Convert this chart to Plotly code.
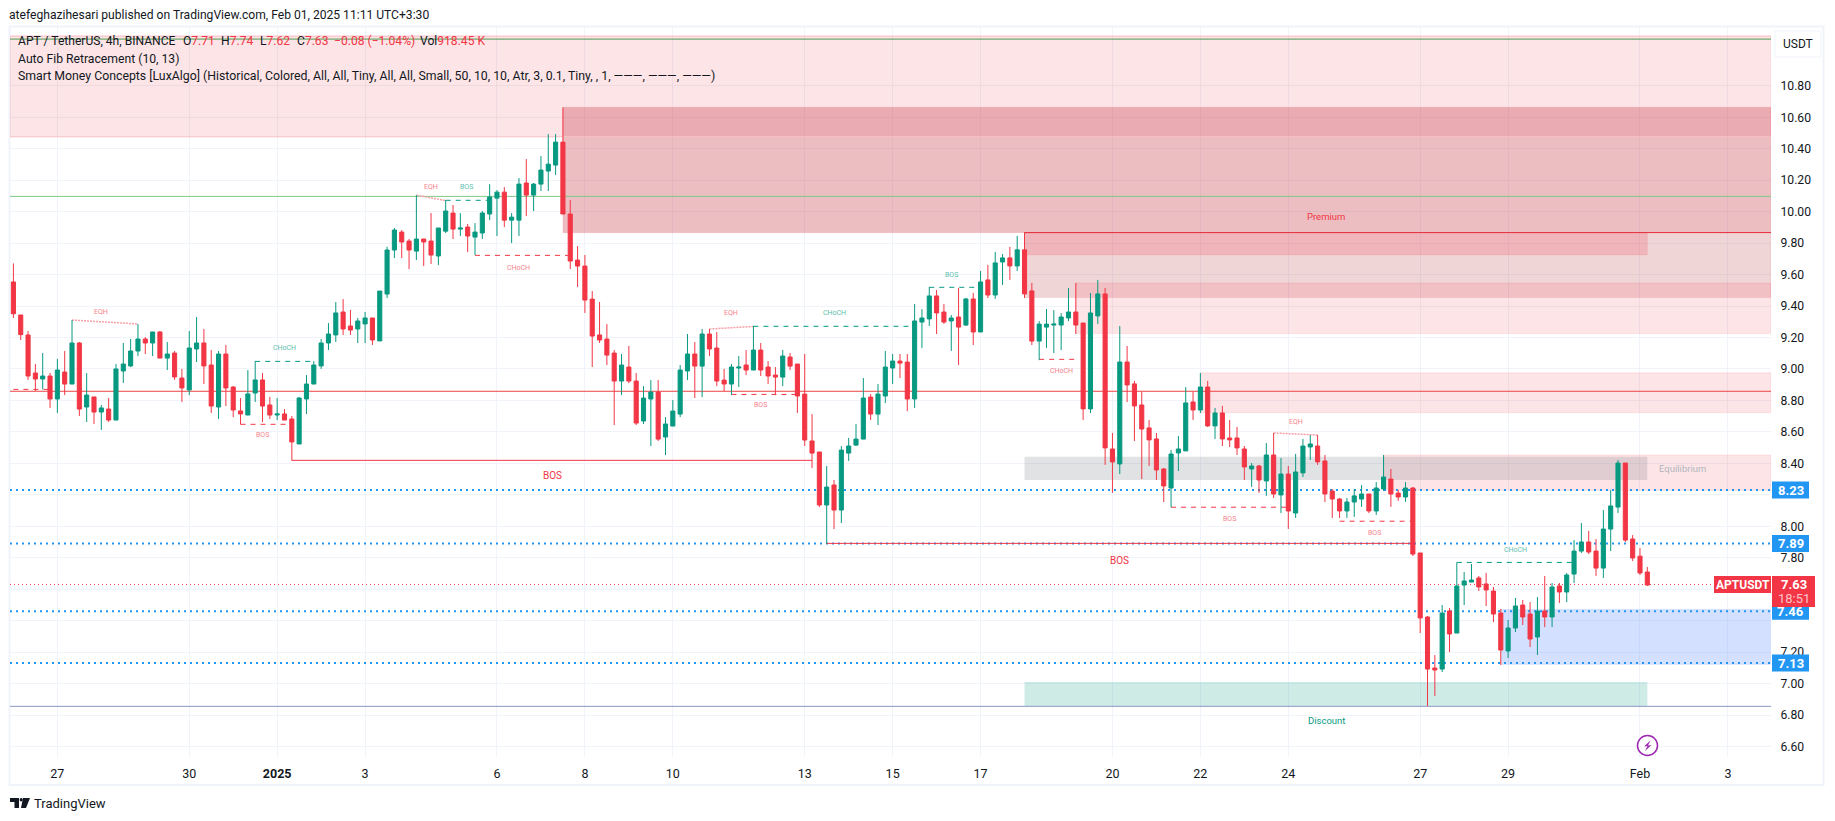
import pandas as pd
import plotly.graph_objects as go

W, H = 1835, 821
L, R, T, B = 10, 1771, 27, 757

start_time = "2024-12-26 03:30"
opens = [9.553,9.343,9.216,8.974,8.936,8.955,8.809,8.980,8.904,9.165,8.758,8.822,8.726,8.745,8.675,8.987,9.019,9.114,9.190,9.165,
9.235,9.069,9.101,8.942,8.866,9.127,9.165,9.025,8.758,9.095,8.885,8.733,8.707,8.847,8.930,8.771,8.707,8.714,8.682,8.523,
8.809,8.904,9.019,9.165,9.216,9.362,9.273,9.254,9.286,9.324,9.178,9.476,9.756,9.870,9.813,9.749,9.826,9.813,9.718,9.876,
9.991,9.889,9.902,9.838,9.864,9.985,10.086,10.124,9.946,9.946,10.182,10.105,10.175,10.258,10.296,10.442,9.985,9.692,9.654,9.444,
9.216,9.190,9.101,8.923,9.012,8.923,8.669,8.809,8.853,8.567,8.637,8.713,8.987,9.095,9.018,9.222,9.133,8.929,8.904,9.006,
9.025,8.993,9.120,9.012,8.961,8.948,9.076,9.031,8.840,8.542,8.472,8.135,8.262,8.103,8.465,8.516,8.554,8.821,8.713,8.828,
9.006,9.050,9.044,8.809,9.298,9.318,9.464,9.362,9.305,9.330,9.279,9.445,9.235,9.566,9.470,9.680,9.706,9.655,9.757,9.496,
9.177,9.266,9.279,9.279,9.324,9.362,9.292,8.746,9.337,9.477,8.491,8.396,9.044,8.905,8.771,8.625,8.555,8.364,8.243,8.466,
8.479,8.790,8.739,8.885,8.638,8.720,8.561,8.561,8.491,8.364,8.383,8.288,8.453,8.199,8.332,8.084,8.339,8.504,8.510,8.415,
8.224,8.173,8.097,8.154,8.173,8.205,8.097,8.237,8.300,8.211,8.186,8.243,7.830,7.423,7.099,7.092,7.461,7.321,7.626,7.645,
7.671,7.633,7.588,7.448,7.207,7.353,7.499,7.442,7.296,7.461,7.423,7.620,7.582,7.696,7.842,7.900,7.842,7.734,7.982,8.122,
8.402,7.919,7.810,7.709]
highs = [9.671,9.343,9.241,9.031,9.101,8.974,9.063,9.114,9.311,9.171,8.974,8.822,8.771,8.815,9.031,9.165,9.190,9.286,9.203,9.235,
9.241,9.171,9.114,9.000,9.241,9.330,9.254,9.120,9.114,9.152,8.892,8.815,8.993,9.050,8.974,8.822,8.815,8.745,8.701,8.822,
8.961,9.050,9.190,9.292,9.425,9.444,9.375,9.324,9.362,9.324,9.495,9.777,9.896,9.883,9.826,10.105,9.826,9.991,9.896,10.074,
10.042,9.991,9.921,9.927,10.004,10.175,10.137,10.156,9.991,10.213,10.334,10.182,10.353,10.493,10.493,10.663,10.074,9.781,9.724,9.495,
9.425,9.285,9.120,9.095,9.146,8.974,8.891,8.929,8.929,8.694,8.802,9.025,9.222,9.171,9.254,9.254,9.235,9.000,9.031,9.082,
9.120,9.273,9.165,9.050,9.012,9.120,9.101,9.031,9.095,8.713,8.472,8.383,8.294,8.510,8.561,8.650,8.942,8.840,8.904,9.114,
9.095,9.095,9.095,9.413,9.380,9.521,9.502,9.413,9.343,9.515,9.451,9.483,9.623,9.661,9.744,9.731,9.776,9.846,9.869,9.547,
9.304,9.381,9.374,9.355,9.515,9.547,9.292,9.483,9.566,9.515,8.593,9.273,9.146,8.924,8.854,8.676,8.593,8.370,8.485,8.574,
8.885,8.854,8.974,8.924,8.752,8.765,8.676,8.631,8.510,8.402,8.390,8.529,8.593,8.434,8.383,8.460,8.555,8.580,8.580,8.453,
8.237,8.180,8.180,8.237,8.262,8.205,8.281,8.453,8.364,8.231,8.281,8.249,7.830,7.429,7.181,7.499,7.480,7.770,7.709,7.760,
7.684,7.703,7.614,7.474,7.404,7.544,7.531,7.518,7.550,7.684,7.639,7.639,7.703,7.912,8.020,7.970,7.919,8.103,8.230,8.421,
8.402,7.944,7.861,7.741]
lows = [9.324,9.184,8.930,8.860,8.870,8.752,8.720,8.834,8.904,8.701,8.663,8.650,8.612,8.663,8.675,8.911,9.012,9.082,9.095,9.082,
9.069,8.993,8.930,8.790,8.834,9.044,8.904,8.720,8.682,8.764,8.694,8.648,8.707,8.790,8.663,8.682,8.675,8.675,8.417,8.523,
8.714,8.904,9.000,9.120,9.171,9.216,9.216,9.165,9.165,9.152,9.178,9.451,9.705,9.705,9.635,9.692,9.654,9.667,9.660,9.864,
9.826,9.845,9.743,9.724,9.826,9.946,9.845,9.902,9.800,9.845,9.972,10.004,10.131,10.131,10.233,9.985,9.635,9.521,9.356,9.012,
9.165,9.025,8.643,8.834,8.910,8.643,8.650,8.510,8.542,8.453,8.637,8.694,8.929,8.815,8.821,9.082,8.891,8.859,8.834,8.885,
8.961,8.993,8.955,8.904,8.834,8.891,8.993,8.720,8.510,8.370,8.122,7.891,7.982,8.020,8.415,8.510,8.554,8.675,8.643,8.783,
8.904,8.942,8.732,8.752,9.133,9.273,9.222,9.286,9.114,9.025,9.273,9.152,9.235,9.451,9.445,9.534,9.566,9.623,9.451,9.152,
9.056,9.133,9.101,9.120,9.304,9.222,8.676,8.720,9.286,8.390,8.212,8.332,8.790,8.542,8.300,8.383,8.294,8.154,8.120,8.351,
8.479,8.676,8.720,8.631,8.555,8.510,8.504,8.453,8.294,8.250,8.212,8.193,8.180,8.084,7.983,8.053,8.313,8.421,8.390,8.154,
8.053,8.053,8.053,8.059,8.123,8.084,8.072,8.224,8.123,8.161,8.155,7.811,7.321,6.857,6.921,7.073,7.200,7.321,7.499,7.645,
7.588,7.493,7.391,7.118,7.162,7.327,7.372,7.232,7.181,7.359,7.359,7.512,7.518,7.639,7.830,7.823,7.684,7.671,7.842,8.084,
7.900,7.779,7.690,7.620]
closes = [9.351,9.218,8.955,8.936,8.955,8.809,8.993,8.904,9.165,8.745,8.834,8.726,8.752,8.675,9.000,9.031,9.114,9.190,9.165,9.235,
9.069,9.095,8.949,8.879,9.133,9.165,9.019,8.764,9.095,8.879,8.739,8.714,8.841,8.930,8.764,8.707,8.714,8.675,8.536,8.815,
8.904,9.025,9.165,9.222,9.356,9.254,9.247,9.305,9.324,9.184,9.495,9.756,9.883,9.807,9.756,9.826,9.807,9.724,9.896,10.004,
9.889,9.896,9.845,9.870,9.991,10.093,10.124,9.946,9.965,10.175,10.105,10.175,10.264,10.302,10.442,9.985,9.686,9.654,9.438,9.209,
9.184,9.088,8.923,9.025,8.923,8.656,8.815,8.853,8.554,8.650,8.732,8.993,9.095,9.018,9.222,9.127,8.923,8.904,9.012,9.012,
8.993,9.120,8.993,8.955,8.948,9.082,9.018,8.828,8.548,8.465,8.135,8.249,8.103,8.484,8.510,8.554,8.815,8.713,8.840,9.012,
9.050,9.037,8.809,9.305,9.324,9.464,9.356,9.298,9.324,9.266,9.445,9.235,9.553,9.470,9.674,9.706,9.655,9.757,9.477,9.177,
9.285,9.285,9.285,9.330,9.362,9.279,8.746,9.356,9.477,8.498,8.409,9.044,8.898,8.765,8.618,8.549,8.358,8.256,8.459,8.491,
8.784,8.739,8.885,8.638,8.720,8.555,8.549,8.498,8.377,8.383,8.294,8.453,8.205,8.332,8.097,8.345,8.510,8.523,8.409,8.205,
8.173,8.097,8.154,8.193,8.205,8.097,8.243,8.313,8.205,8.186,8.243,7.823,7.417,7.092,7.086,7.448,7.315,7.620,7.652,7.658,
7.614,7.595,7.442,7.213,7.353,7.493,7.423,7.283,7.461,7.423,7.614,7.582,7.690,7.842,7.900,7.836,7.734,7.982,8.129,8.402,
7.912,7.798,7.703,7.626]

price_ticks = [6.6,6.8,7.0,7.2,7.4,7.6,7.8,8.0,8.2,8.4,8.6,8.8,9.0,9.2,9.4,9.6,9.8,10.0,10.2,10.4,10.6,10.8]
hidden_price_ticks = [7.4, 7.6, 8.2]  # covered by the price badges in the reference
time_tick_candles = [7,25,37,49,67,79,91,109,121,133,151,163,175,193,205,223,235]
time_tick_labels = ["27","30","<b>2025</b>","3","6","8","10","13","15","17","20","22","24","27","29","Feb","3"]

# (from candle, to candle, price bottom, price top, fill)  to=None: right edge
zones = [
    (None, None, 10.476, 11.116, "rgba(242,54,69,0.13)"),
    (76, None, 9.866, 10.663, "rgba(197,52,64,0.32)"),
    (139, None, 9.454, 9.866, "rgba(172,22,33,0.18)"),
    (139, 224, 9.725, 9.866, "rgba(242,54,69,0.20)"),
    (146, None, 9.225, 9.547, "rgba(242,54,69,0.13)"),
    (163, None, 8.722, 8.975, "rgba(242,54,69,0.13)"),
    (188, None, 8.229, 8.453, "rgba(242,54,69,0.13)"),
    (139, 224, 8.294, 8.441, "rgba(120,123,134,0.22)"),
    (204, None, 7.120, 7.474, "rgba(41,98,255,0.20)"),
    (139, 224, 6.857, 7.010, "rgba(8,153,129,0.20)"),
]
# (price, colour, from candle)
levels = [
    (11.116, "#f7c6ca", None), (11.097, "#4c9a50", None), (10.476, "#f7c6ca", None),
    (10.097, "#7fc983", None), (8.858, "#ef4444", None), (6.855, "#8c97c2", None),
    (9.867, "#e8323f", 139),
]
key_levels = [8.23, 7.89, 7.46, 7.13]
last_price = 7.63
# (from, to, price from, price to, colour, dash, width)
structures = [
    (1, 6, 8.870, 8.870, "#f23645", "5px,5px", 1),
    (32, 39, 8.648, 8.648, "#f23645", "5px,5px", 1),
    (34, 42, 9.048, 9.048, "#089981", "5px,5px", 1),
    (9, 18, 9.311, 9.286, "#f7a0a8", "2px,1px", 1.5),
    (56, 60, 10.105, 10.070, "#f7a0a8", "2px,1px", 1.5),
    (60, 66, 10.072, 10.072, "#089981", "5px,5px", 1),
    (64, 77, 9.722, 9.722, "#f23645", "5px,5px", 1),
    (96, 102, 9.254, 9.270, "#f7a0a8", "2px,1px", 1.5),
    (102, 124, 9.271, 9.271, "#089981", "5px,5px", 1),
    (99, 108, 8.838, 8.838, "#f23645", "5px,5px", 1),
    (126, 133, 9.519, 9.519, "#089981", "5px,5px", 1),
    (141, 146, 9.061, 9.061, "#f23645", "5px,5px", 1),
    (173, 179, 8.593, 8.580, "#f7a0a8", "2px,1px", 1.5),
    (159, 175, 8.121, 8.121, "#f23645", "5px,5px", 1),
    (182, 192, 8.032, 8.032, "#f23645", "5px,5px", 1),
    (198, 214, 7.770, 7.770, "#089981", "5px,5px", 1),
    (39, 110, 8.419, 8.419, "#f23645", "solid", 1),
    (112, 192, 7.891, 7.891, "#f23645", "solid", 1),
]
# (text, candle, price, colour, size)
labels = [
    ("EQH", 13, 9.36, "#f5838d", 7), ("CHoCH", 38, 9.13, "#5cc0ad", 7), ("BOS", 35, 8.578, "#f5838d", 7),
    ("CHoCH", 70, 9.644, "#f5838d", 7), ("EQH", 58, 10.154, "#f5838d", 7), ("BOS", 62.8, 10.154, "#5cc0ad", 7),
    ("EQH", 99, 9.353, "#f5838d", 7), ("CHoCH", 113, 9.353, "#5cc0ad", 7), ("BOS", 103, 8.768, "#f5838d", 7),
    ("BOS", 129, 9.60, "#5cc0ad", 7), ("CHoCH", 144, 8.985, "#f5838d", 7), ("EQH", 176, 8.661, "#f5838d", 7),
    ("BOS", 167, 8.044, "#f5838d", 7), ("BOS", 186.7, 7.955, "#f5838d", 7), ("CHoCH", 206, 7.847, "#5cc0ad", 7),
    ("BOS", 74.6, 8.32, "#f23645", 10), ("BOS", 152, 7.78, "#f23645", 10),
    ("Premium", 180.2, 9.97, "#f23645", 9.5), ("Discount", 180.2, 6.762, "#089981", 9.5),
    ("Equilibrium", 228.8, 8.37, "#b2b5be", 9.5),
]

header_text = "atefeghazihesari published on TradingView.com, Feb 01, 2025 11:11 UTC+3:30"
RED = "#f23645"
GREEN = "#089981"
TEXT = "#131722"
# pieces of the OHLC legend: (label, coloured value, left pixel)
legend_title = "APT / TetherUS, 4h, BINANCE"
legend_pieces = [("O", "7.71", 183), ("H", "7.74", 221), ("L", "7.62", 260), ("C", "7.63", 297),
                 ("", "−0.08 (−1.04%)", 334), ("Vol", "918.45 K", 420)]
legend_fib = "Auto Fib Retracement (10, 13)"
legend_smc = "Smart Money Concepts [LuxAlgo] (Historical, Colored, All, All, Tiny, All, All, Small, 50, 10, 10, Atr, 3, 0.1, Tiny, , 1, ———, ———, ———)"

times = pd.date_range(start_time, periods=len(opens), freq="4h")
t0 = times[0]
step = pd.Timedelta(hours=4)


def cd(i):
    """Candle number (1-based, may be fractional) to a time on the axis."""
    return (t0 + (i - 1) * step).strftime("%Y-%m-%d %H:%M:%S")


SPACING = 7.327
x_start = t0 + (L - 13.4) / SPACING * step
x_end = t0 + (R - 13.4) / SPACING * step
x_range = [x_start.strftime("%Y-%m-%d %H:%M:%S"), x_end.strftime("%Y-%m-%d %H:%M:%S")]
PX_PER_UNIT = 157.3
y_range = [6.8 - (B - 715) / PX_PER_UNIT, 6.8 + (715 - T) / PX_PER_UNIT]


def px(x):
    return (x - L) / (R - L)


def py(y):
    return 1 - (y - T) / (B - T)


fig = go.Figure()
fig.add_trace(go.Candlestick(
    x=times, open=opens, high=highs, low=lows, close=closes,
    increasing=dict(line=dict(color=GREEN, width=1), fillcolor=GREEN),
    decreasing=dict(line=dict(color=RED, width=1), fillcolor=RED),
    whiskerwidth=0, showlegend=False, hoverinfo="skip",
))

shapes = []
for a, b, lo, hi, fill in zones:
    shapes.append(dict(
        type="rect", layer="between", xref="x", yref="y",
        x0=cd(a) if a else x_range[0], x1=cd(b) if b else x_range[1],
        y0=lo, y1=hi, fillcolor=fill, line=dict(color="rgba(242,54,69,0.10)" if "242,54" in fill or "197" in fill or "172" in fill else "rgba(0,0,0,0)", width=1),
    ))
for p, col, a in levels:
    shapes.append(dict(type="line", layer="between", xref="x", yref="y",
                       x0=cd(a) if a else x_range[0], x1=x_range[1], y0=p, y1=p,
                       line=dict(color=col, width=1)))
for p in key_levels:
    shapes.append(dict(type="line", layer="between", xref="x", yref="y",
                       x0=x_range[0], x1=x_range[1], y0=p, y1=p,
                       line=dict(color="#2196f3", width=2, dash="2px,4px")))
shapes.append(dict(type="line", layer="between", xref="x", yref="y",
                   x0=x_range[0], x1=x_range[1], y0=last_price, y1=last_price,
                   line=dict(color=RED, width=1, dash="1px,3px")))
for a, b, p0, p1, col, dash, w in structures:
    shapes.append(dict(type="line", layer="between", xref="x", yref="y",
                       x0=cd(a), x1=cd(b), y0=p0, y1=p1,
                       line=dict(color=col, width=w, dash=dash)))

# outer frame of the TradingView panel
shapes.append(dict(type="rect", xref="paper", yref="paper", layer="below",
                   x0=px(9.5), x1=px(1823.5), y0=py(785), y1=py(26.5),
                   line=dict(color="#f0f3fa", width=2), fillcolor="rgba(0,0,0,0)"))
# USDT button
shapes.append(dict(type="rect", xref="paper", yref="paper",
                   x0=px(1775), x1=px(1821), y0=py(57), y1=py(31),
                   line=dict(color="#f0f3fa", width=1), fillcolor="white"))
# badges
for v in key_levels:
    yc = 715 - (v - 6.8) * PX_PER_UNIT
    shapes.append(dict(type="rect", xref="paper", yref="paper",
                       x0=px(1772), x1=px(1809), y0=py(yc + 8.5), y1=py(yc - 8.5),
                       fillcolor="#2196f3", line=dict(width=0)))
shapes.append(dict(type="rect", xref="paper", yref="paper",
                   x0=px(1772), x1=px(1815), y0=py(607), y1=py(576),
                   fillcolor=RED, line=dict(width=0)))
shapes.append(dict(type="rect", xref="paper", yref="paper",
                   x0=px(1714), x1=px(1771), y0=py(593), y1=py(576),
                   fillcolor=RED, line=dict(width=0)))
# lightning circle
shapes.append(dict(type="circle", xref="paper", yref="paper",
                   x0=px(1637.5), x1=px(1657.5), y0=py(755.5), y1=py(735.5),
                   line=dict(color="#9c27b0", width=1.5), fillcolor="white"))
bolt = [(1650.5, 740.5), (1644, 746.5), (1647.5, 746), (1645, 751), (1651.5, 745), (1648, 745.4)]
shapes.append(dict(type="path", xref="paper", yref="paper",
                   path="M" + " L".join(f"{px(a):.6f},{py(b):.6f}" for a, b in bolt) + " Z",
                   fillcolor="#9c27b0", line=dict(width=0)))
# TradingView mark
logo_parts = [
    [(10, 798), (19, 798), (19, 808), (14.5, 808), (14.5, 802), (10, 802)],
    [(23, 798), (30, 798), (26, 808), (21, 808)],
]
for part in logo_parts:
    shapes.append(dict(type="path", xref="paper", yref="paper",
                       path="M" + " L".join(f"{px(a):.6f},{py(b):.6f}" for a, b in part) + " Z",
                       fillcolor=TEXT, line=dict(width=0)))
shapes.append(dict(type="circle", xref="paper", yref="paper",
                   x0=px(19.6), x1=px(22.8), y0=py(801.6), y1=py(798),
                   fillcolor=TEXT, line=dict(width=0)))

anns = []
FONT = "Roboto"
for txt, c, p, col, size in labels:
    anns.append(dict(text=txt, x=cd(c), y=p, xref="x", yref="y", showarrow=False,
                     font=dict(family=FONT, size=size, color=col), xanchor="center", yanchor="middle"))


def pa(txt, x, y, size=12, color=TEXT, anchor="left"):
    anns.append(dict(text=txt, x=px(x), y=py(y), xref="paper", yref="paper", showarrow=False,
                     font=dict(family=FONT, size=size, color=color), xanchor=anchor, yanchor="middle",
                     align=anchor))


pa(header_text, 7, 15, 12.1)
pa(legend_title, 16, 41, 12.1)
for lab, val, xp in legend_pieces:
    pa(f"{lab}<span style='color:{RED}'>{val}</span>", xp - 2, 41, 12.1)
pa(legend_fib, 16, 59, 12.2)
pa(legend_smc, 16, 76, 12.3)
pa("USDT", 1798, 44, 12, TEXT, "center")
for v in key_levels:
    yc = 715 - (v - 6.8) * PX_PER_UNIT
    pa(f"<b>{v:.2f}</b>", 1790.5, yc, 13, "white", "center")
pa("<b>APTUSDT</b>", 1742.5, 584.5, 12, "white", "center")
pa("<b>7.63</b>", 1793.5, 584.5, 13, "white", "center")
pa("18:51", 1793.5, 598.5, 13, "#fbc4c9", "center")
pa("TradingView", 32, 803.5, 13, TEXT)

fig.update_layout(
    width=W, height=H, autosize=False,
    margin=dict(l=L, r=W - R, t=T, b=H - B, pad=0),
    paper_bgcolor="white", plot_bgcolor="white",
    showlegend=False, shapes=shapes, annotations=anns,
    font=dict(family=FONT, size=12, color=TEXT),
    hovermode=False, dragmode=False, boxgap=0.2, boxgroupgap=0.3,
    xaxis=dict(
        type="date", range=x_range, rangeslider=dict(visible=False),
        tickmode="array", tickvals=[cd(i) for i in time_tick_candles], ticktext=time_tick_labels,
        showgrid=True, gridcolor="#f0f3fa", gridwidth=1, zeroline=False, showline=False,
        ticks="outside", ticklen=5, tickcolor="rgba(255,255,255,0)", tickfont=dict(family=FONT, size=12.5, color=TEXT),
    ),
    yaxis=dict(
        side="right", range=y_range, tickmode="array", tickvals=price_ticks,
        ticktext=["" if v in hidden_price_ticks else f"{v:.2f}" for v in price_ticks],
        showgrid=True, gridcolor="#f0f3fa", gridwidth=1, zeroline=False, showline=False,
        ticks="outside", ticklen=6, tickcolor="rgba(255,255,255,0)", tickfont=dict(family=FONT, size=12.2, color=TEXT),
    ),
)

fig.write_html("out.html", config=dict(displayModeBar=False),
               post_script="document.body.style.margin='0';document.body.style.overflow='hidden';")
